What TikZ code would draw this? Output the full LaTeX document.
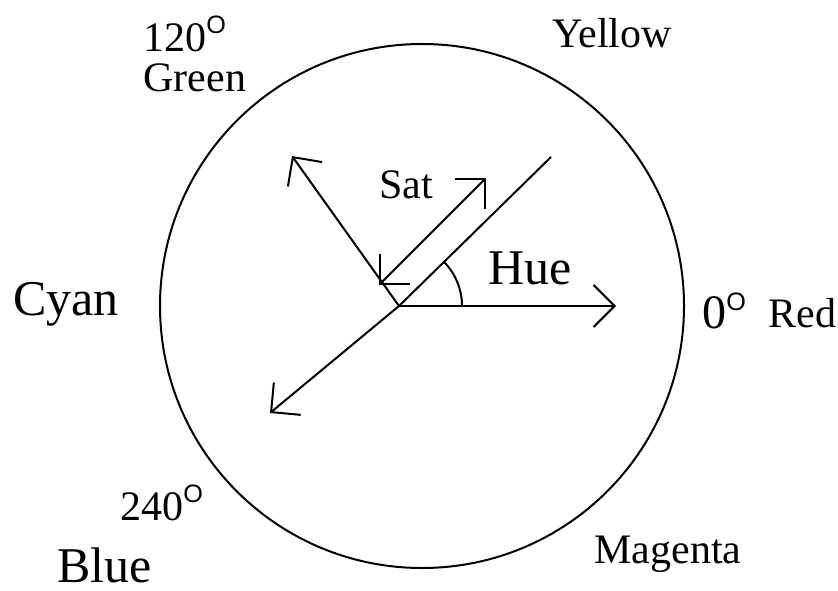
\documentclass[tikz,border=0pt]{standalone}
\usepackage{fontspec}
\setmainfont{Liberation Serif}
\setsansfont{Liberation Sans}
\usetikzlibrary{arrows.meta}
\newcommand{\degmark}{\raisebox{9pt}{\sffamily\fontsize{12.6}{14}\selectfont O}}

\begin{document}
\begin{tikzpicture}[x=0.5pt,y=0.5pt,
  axis/.style={draw=black,line width=1pt},
  vec/.style={axis,-{Straight Barb[length=10.5pt,width=21pt]}},
  twovec/.style={axis,{Straight Barb[length=10.5pt,width=21pt]}-{Straight Barb[length=10.5pt,width=21pt]}},
  txt/.style={anchor=base west,inner sep=0pt,font=\fontsize{21}{25}\selectfont},
  bigtxt/.style={txt,font=\fontsize{25}{30}\selectfont}]
\useasboundingbox (0,0) rectangle (838,590);
% hue wheel
\draw[axis] (422,284) circle[radius=131pt];
\coordinate (o) at (399,284);
\coordinate (redtip) at (616,284);
\coordinate (greentip) at (292,434);
\coordinate (bluetip) at (270,177);
\coordinate (diag) at (551,433);
\coordinate (satlow) at (379,305);
\coordinate (sathigh) at (486,412);
\draw[vec] (o) -- (redtip);
\draw[vec] (o) -- (greentip);
\draw[vec] (o) -- (bluetip);
\draw[axis] (o) -- (diag);
\draw[twovec] (satlow) -- (sathigh);
\draw[axis] (o) ++(31.5pt,0pt) arc[start angle=0,end angle=45,radius=31.5pt];
% labels
\node[txt] (sat) at (379,392) {Sat};
\node[bigtxt] (hue) at (488,306) {Hue};
\node[bigtxt] (cyan) at (13,275) {Cyan};
\node[txt] (yellow) at (552,542) {Yellow};
\node[txt] (deg120) at (143,538) {120\degmark};
\node[txt] (green) at (143,498) {Green};
\node[txt,font=\fontsize{24}{28}\selectfont] (deg0) at (702,262) {0\degmark};
\node[txt] (red) at (768,263) {Red};
\node[txt] (deg240) at (120,70) {240\degmark};
\node[bigtxt] (blue) at (57,8) {Blue};
\node[txt] (magenta) at (594,27) {Magenta};
\end{tikzpicture}
\end{document}
